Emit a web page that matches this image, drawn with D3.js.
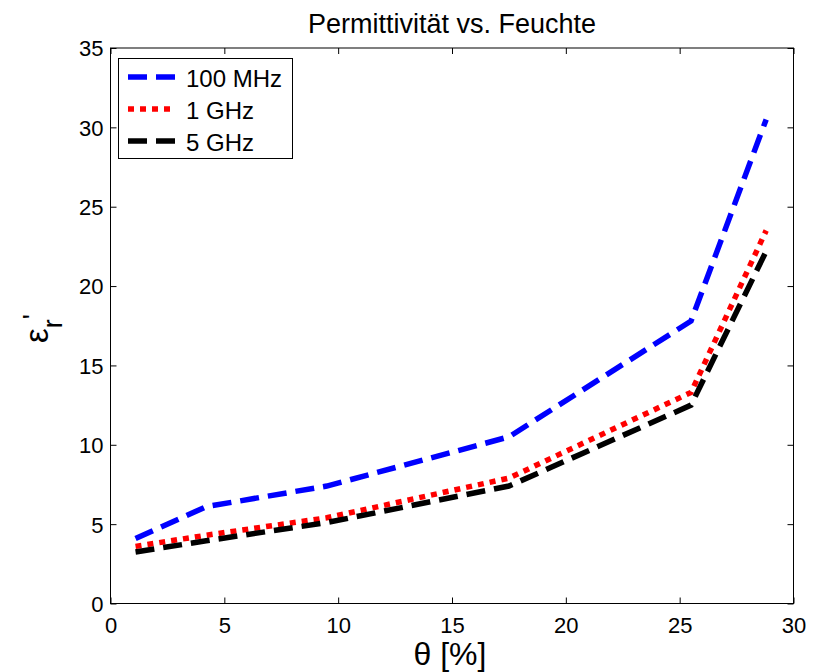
<!DOCTYPE html>
<html>
<head>
<meta charset="utf-8">
<script src="https://cdn.jsdelivr.net/npm/d3@7"></script>
<style>
  html, body { margin: 0; padding: 0; background: #fff; }
  svg { display: block; font-family: "Liberation Sans", Arial, sans-serif; }
</style>
</head>
<body>
<svg id="chart" width="817" height="672"></svg>
<script>
// Moisture content θ in percent
const moisture = [1.1, 4.2, 9.5, 17.5, 25.5, 28.8];
// Real part of relative permittivity at each frequency
const eps100MHz = [4.1, 6.1, 7.4, 10.5, 17.8, 30.5];
const eps1GHz   = [3.6, 4.3, 5.4, 7.9, 13.3, 23.5];
const eps5GHz   = [3.25, 3.95, 5.1, 7.4, 12.5, 22.2];
const seriesNames = ["100 MHz", "1 GHz", "5 GHz"];
const xTicks = [0, 5, 10, 15, 20, 25, 30];
const yTicks = [0, 5, 10, 15, 20, 25, 30, 35];

const series = [
  { name: seriesNames[0], values: eps100MHz, color: "#0000ff", dash: "19,9" },
  { name: seriesNames[1], values: eps1GHz,   color: "#ff0000", dash: "6,6" },
  { name: seriesNames[2], values: eps5GHz,   color: "#000000", dash: "19,9" }
];

const svg = d3.select("#chart");
const plotL = 110.5, plotR = 793.5, plotT = 48, plotB = 603.5;

const x = d3.scaleLinear().domain([0, 30]).range([plotL, plotR]);
const y = d3.scaleLinear().domain([0, 35]).range([plotB, plotT]);

// Plot box
svg.append("rect")
  .attr("x", plotL).attr("y", plotT)
  .attr("width", plotR - plotL).attr("height", plotB - plotT)
  .attr("fill", "#fff").attr("stroke", "#000").attr("stroke-width", 1);

// Axes with inward ticks on all four sides
const tickLen = 6;
const bottomAxis = svg.append("g").attr("transform", `translate(0,${plotB})`)
  .call(d3.axisBottom(x).tickValues(xTicks).tickSize(-tickLen).tickPadding(0));
const topAxis = svg.append("g").attr("transform", `translate(0,${plotT})`)
  .call(d3.axisTop(x).tickValues(xTicks).tickSize(-tickLen).tickFormat(""));
const leftAxis = svg.append("g").attr("transform", `translate(${plotL},0)`)
  .call(d3.axisLeft(y).tickValues(yTicks).tickSize(-tickLen).tickPadding(7));
const rightAxis = svg.append("g").attr("transform", `translate(${plotR},0)`)
  .call(d3.axisRight(y).tickValues(yTicks).tickSize(-tickLen).tickFormat(""));

[bottomAxis, topAxis, leftAxis, rightAxis].forEach(g => {
  g.select(".domain").remove();
  g.selectAll("line").attr("stroke", "#000");
  g.selectAll("text")
    .attr("font-family", "Liberation Sans, Arial, sans-serif")
    .attr("font-size", 22).attr("fill", "#000");
});
// baseline of x tick labels sits about 29px below the axis
bottomAxis.selectAll("text").attr("y", 29).attr("dy", null);
leftAxis.selectAll("text").attr("dy", "0.36em");

// Data lines
const line = d3.line()
  .x((d, i) => x(moisture[i]))
  .y(d => y(d));

series.forEach(s => {
  svg.append("path")
    .datum(s.values)
    .attr("d", line)
    .attr("fill", "none")
    .attr("stroke", s.color)
    .attr("stroke-width", 5.5)
    .attr("stroke-dasharray", s.dash)
    .attr("stroke-linejoin", "miter");
});

// Legend
const legend = svg.append("g");
legend.append("rect")
  .attr("x", 118.5).attr("y", 58.5).attr("width", 174).attr("height", 100)
  .attr("fill", "#fff").attr("stroke", "#000").attr("stroke-width", 1);
series.forEach((s, i) => {
  const ly = 77 + i * 32;
  legend.append("line")
    .attr("x1", 128).attr("x2", 175).attr("y1", ly).attr("y2", ly)
    .attr("stroke", s.color).attr("stroke-width", 5.5)
    .attr("stroke-dasharray", s.dash);
  legend.append("text")
    .attr("x", 186).attr("y", ly + 10)
    .attr("font-size", 24).attr("fill", "#000")
    .text(s.name);
});

// Title
svg.append("text")
  .attr("x", (plotL + plotR) / 2).attr("y", 33)
  .attr("text-anchor", "middle").attr("font-size", 27).attr("fill", "#000")
  .text("Permittivität vs. Feuchte");

// X label
svg.append("text")
  .attr("x", (plotL + plotR) / 2 - 2).attr("y", 665)
  .attr("text-anchor", "middle").attr("font-size", 32).attr("fill", "#000")
  .text("θ [%]");

// Y label: ε with subscript r and prime, reading upward
const yl = svg.append("text")
  .attr("transform", "translate(48,343) rotate(-90)")
  .attr("text-anchor", "start").attr("font-size", 33).attr("fill", "#000");
yl.append("tspan").text("ε");
yl.append("tspan").attr("font-size", 27).attr("dy", 14).text("r");
yl.append("tspan").attr("font-size", 27).attr("dy", -20).text("'");
</script>
</body>
</html>
